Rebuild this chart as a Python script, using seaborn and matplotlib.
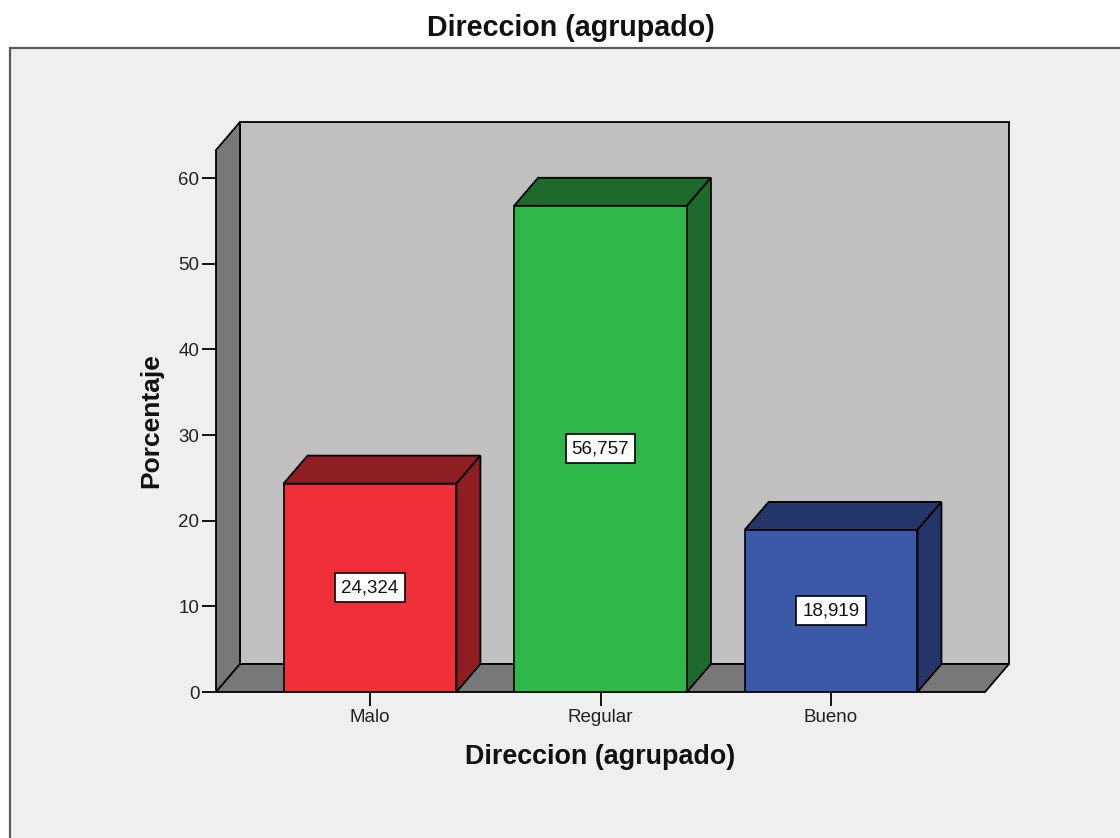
import matplotlib
matplotlib.use("Agg")
import matplotlib.pyplot as plt
import seaborn as sns
from matplotlib.patches import Polygon, Rectangle

# Chart data
categories = ["Malo", "Regular", "Bueno"]
percentages = [24.324, 56.757, 18.919]
value_labels = ["24,324", "56,757", "18,919"]
y_ticks = [0, 10, 20, 30, 40, 50, 60]
title_text = "Direccion (agrupado)"
x_label = "Direccion (agrupado)"
y_label = "Porcentaje"

# Face colours: front faces and the darker top/side faces of each box
front_colors = ["#ef3038", "#2eb84a", "#3c58a8"]
shade_colors = ["#8f1e22", "#1d6a2c", "#24356a"]
back_wall_color = "#c0c0c0"
side_wall_color = "#787878"
panel_color = "#efefef"

sns.set_theme(style="white")
plt.rcParams["font.family"] = ["Liberation Sans", "DejaVu Sans"]

W, H, DPI = 1120, 838, 100
fig = plt.figure(figsize=(W / DPI, H / DPI), dpi=DPI)
fig.patch.set_facecolor("white")

# Framed chart panel
fig.add_artist(Rectangle((10 / W, -0.05), 1.2, (H - 48) / H + 0.05,
                         transform=fig.transFigure, facecolor=panel_color,
                         edgecolor="#5a5a5a", lw=1.6, zorder=0))

ax_px = (216, 692, 769, 542)  # left, bottom(from top), width, height in pixels
ax = fig.add_axes([ax_px[0] / W, (H - ax_px[1]) / H, ax_px[2] / W, ax_px[3] / H])
ax.set_facecolor("none")

xmin, xmax = -0.668, 2.668
ymin, ymax = 0, 63.27
ax.set_xlim(xmin, xmax)
ax.set_ylim(ymin, ymax)

# Depth of the 3D effect in pixels, converted to data units
DEPTH_X, DEPTH_Y = 24, 28
ddx = DEPTH_X * (xmax - xmin) / ax_px[2]
ddy = DEPTH_Y * (ymax - ymin) / ax_px[3]

edge = dict(edgecolor="black", lw=1.3, clip_on=False)

# Back wall, left wall and floor
ax.add_patch(Rectangle((xmin + ddx, ymin + ddy), xmax - xmin, ymax - ymin,
                       facecolor=back_wall_color, zorder=0.5, **edge))
ax.add_patch(Polygon([(xmin, ymin), (xmin, ymax), (xmin + ddx, ymax + ddy),
                      (xmin + ddx, ymin + ddy)],
                     facecolor=side_wall_color, zorder=0.6, **edge))
ax.add_patch(Polygon([(xmin, ymin), (xmax, ymin), (xmax + ddx, ymin + ddy),
                      (xmin + ddx, ymin + ddy)],
                     facecolor=side_wall_color, zorder=0.6, **edge))

# Front faces of the bars
sns.barplot(x=categories, y=percentages, hue=categories, palette=front_colors,
            width=0.75, edgecolor="black", linewidth=1.2, saturation=1,
            legend=False, ax=ax, zorder=3)
ax.set_xlim(xmin, xmax)
ax.set_ylim(ymin, ymax)

# Top and side faces, plus value boxes
for patch, shade, txt in zip(ax.patches[-3:], shade_colors, value_labels):
    x0 = patch.get_x()
    w = patch.get_width()
    h = patch.get_height()
    x1 = x0 + w
    ax.add_patch(Polygon([(x0, h), (x1, h), (x1 + ddx, h + ddy), (x0 + ddx, h + ddy)],
                         facecolor=shade, zorder=2.5, **edge))
    ax.add_patch(Polygon([(x1, 0), (x1, h), (x1 + ddx, h + ddy), (x1 + ddx, ddy)],
                         facecolor=shade, zorder=2.5, **edge))
    ax.text(x0 + w / 2, h / 2, txt, ha="center", va="center", fontsize=13.5,
            color="#111111", zorder=5,
            bbox=dict(boxstyle="square,pad=0.32", facecolor="white",
                      edgecolor="black", lw=1.2))

for s in ax.spines.values():
    s.set_visible(False)

ax.set_yticks(y_ticks)
ax.set_yticklabels([str(t) for t in y_ticks])
ax.tick_params(axis="both", direction="out", length=10, width=1.3,
               color="black", labelsize=13.5, labelcolor="#222222", pad=2,
               left=True, bottom=True)

ax.set_xlabel(x_label, fontsize=19.4, fontweight="bold", color="#111111")
ax.xaxis.label.set_va("center")
ax.xaxis.set_label_coords((600 - ax_px[0]) / ax_px[2], (ax_px[1] - 757) / ax_px[3])

ax.set_ylabel(y_label, fontsize=19, fontweight="bold", color="#111111")
ax.yaxis.label.set_va("center")
ax.yaxis.set_label_coords((151 - ax_px[0]) / ax_px[2], 0.5)

ax.set_title(title_text, fontsize=20.6, fontweight="bold", color="#111111", pad=0,
             x=(571 - ax_px[0]) / ax_px[2], y=(ax_px[1] - 28) / ax_px[3], va="center")

fig.savefig("out.png", dpi=DPI, facecolor=fig.get_facecolor())
